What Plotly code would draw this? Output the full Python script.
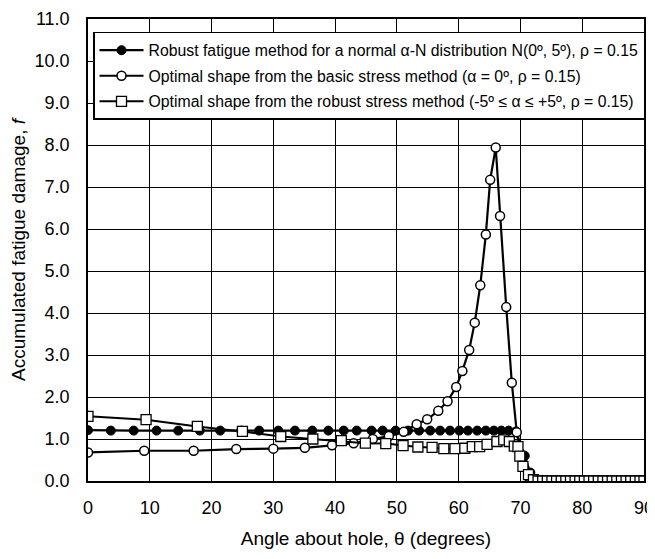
import plotly.graph_objects as go

# Robust fatigue method (filled circles)
robust_fatigue_x = [0, 3.7, 7.4, 11.1, 14.6, 18.1, 21.4, 24.8, 27.7, 30.8, 33.5, 36.3, 38.9, 41.4,
                    43.5, 45.9, 47.7, 49.8, 51.8, 53.6, 55.4, 57.0, 58.6, 60.1, 61.5, 63.0, 64.4,
                    65.7, 66.9, 68.1, 69.3, 70.7, 71.6, 72.4]
robust_fatigue_y = [1.21, 1.20, 1.20, 1.20, 1.20, 1.20, 1.20, 1.20, 1.20, 1.20, 1.20, 1.20, 1.20, 1.20,
                    1.20, 1.20, 1.20, 1.20, 1.20, 1.20, 1.20, 1.20, 1.20, 1.20, 1.20, 1.20, 1.20,
                    1.20, 1.20, 1.20, 1.18, 0.60, 0.20, 0.03]

# Basic stress method (open circles)
basic_x = [0, 9.1, 17.1, 24.0, 30.0, 35.1, 39.5, 43.0, 46.1, 48.7, 51.1, 53.2, 54.9, 56.7, 58.2,
           59.6, 60.6, 61.7, 62.6, 63.5, 64.4, 65.1, 66.0, 66.7, 67.7, 68.6, 69.4, 70.4, 71.3, 72.2]
basic_y = [0.68, 0.72, 0.72, 0.76, 0.77, 0.79, 0.85, 0.90, 1.00, 1.07, 1.17, 1.35, 1.47, 1.67, 1.90,
           2.24, 2.62, 3.12, 3.77, 4.66, 5.87, 7.17, 7.94, 6.31, 4.14, 2.34, 1.16, 0.40, 0.10, 0.0]

# Robust stress method (open squares)
robust_stress_x = [0, 9.4, 17.7, 25.0, 31.2, 36.4, 41.0, 44.9, 48.2, 51.0, 53.4, 55.7, 57.6, 59.4,
                   61.0, 62.2, 63.4, 64.6, 66.2, 67.3, 68.2, 69.0, 69.6, 69.9, 70.4, 71.3,
                   72.1, 72.85, 73.6, 74.35, 75.1, 75.85, 76.6, 77.35, 78.1, 78.85, 79.6, 80.35,
                   81.1, 81.85, 82.6, 83.35, 84.1, 84.85, 85.6, 86.35, 87.1, 87.85, 88.6, 89.35, 90.0]
robust_stress_y = [1.54, 1.46, 1.30, 1.18, 1.06, 1.00, 0.96, 0.90, 0.89, 0.84, 0.81, 0.80, 0.77, 0.77,
                   0.78, 0.82, 0.82, 0.87, 0.94, 0.98, 0.94, 0.83, 0.82, 0.59, 0.35, 0.15,
                   0.03, 0, 0, 0, 0, 0, 0, 0, 0, 0, 0, 0,
                   0, 0, 0, 0, 0, 0, 0, 0, 0, 0, 0, 0, 0]

names = [
    "Robust fatigue method for a normal α-N distribution N(0º, 5º), ρ = 0.15",
    "Optimal shape from the basic stress method (α = 0º, ρ = 0.15)",
    "Optimal shape from the robust stress method (-5º ≤ α ≤ +5º, ρ = 0.15)",
]

x_ticks = [0, 10, 20, 30, 40, 50, 60, 70, 80, 90]
y_ticks = [0, 1, 2, 3, 4, 5, 6, 7, 8, 9, 10, 11]

FONT = "Liberation Sans, Arial, sans-serif"

fig = go.Figure()
fig.add_trace(go.Scatter(
    x=robust_fatigue_x, y=robust_fatigue_y, name=names[0], mode="lines+markers",
    legendgroup="a",
    line=dict(color="black", width=2.2),
    marker=dict(symbol="circle", size=9, color="black", line=dict(color="black", width=1)),
))
fig.add_trace(go.Scatter(
    x=basic_x, y=basic_y, name=names[1], mode="lines+markers",
    legendgroup="b",
    line=dict(color="black", width=2.2),
    marker=dict(symbol="circle", size=9, color="white", line=dict(color="black", width=1.5)),
))
fig.add_trace(go.Scatter(
    x=robust_stress_x, y=robust_stress_y, name=names[2], mode="lines+markers",
    legendgroup="c",
    line=dict(color="black", width=2),
    marker=dict(symbol="square", size=10, color="white", line=dict(color="black", width=1.3)),
))

fig.update_layout(
    width=647, height=551,
    margin=dict(l=80, r=10, t=11, b=78),
    paper_bgcolor="white", plot_bgcolor="white",
    font=dict(family=FONT, color="black", size=18),
    showlegend=True,
    legend=dict(
        x=0.009, y=0.972, xanchor="left", yanchor="top",
        bgcolor="white", bordercolor="black", borderwidth=1.5,
        font=dict(family=FONT, size=15.8, color="black"),
        itemwidth=44, tracegroupgap=2,
    ),
    xaxis=dict(
        range=[0, 90], tickvals=x_ticks, ticktext=[str(v) for v in x_ticks],
        showgrid=True, gridcolor="black", gridwidth=1.3,
        showline=True, linecolor="black", linewidth=1.5, mirror=True,
        ticks="outside", ticklen=10, tickcolor="rgba(0,0,0,0)",
        tickfont=dict(size=18), zeroline=False, automargin=False,
        title=dict(text="Angle about hole, θ (degrees)", font=dict(size=19), standoff=14),
    ),
    yaxis=dict(
        range=[0, 11], tickvals=y_ticks, ticktext=[f"{v:.1f}" for v in y_ticks],
        showgrid=True, gridcolor="black", gridwidth=1.3,
        showline=True, linecolor="black", linewidth=1.5, mirror=True,
        ticks="outside", ticklen=13, tickcolor="rgba(0,0,0,0)",
        tickfont=dict(size=18), zeroline=False, automargin=False,
        title=dict(text="Accumulated fatigue damage, <i>f</i>", font=dict(size=19), standoff=4),
    ),
)

fig.write_html("out.html")
